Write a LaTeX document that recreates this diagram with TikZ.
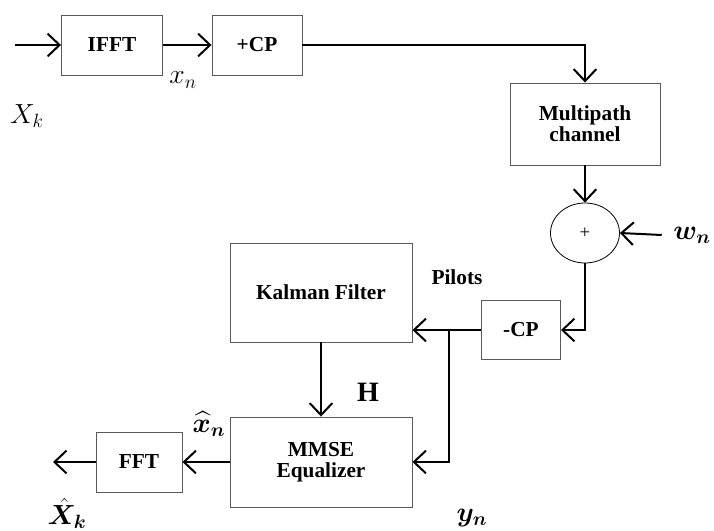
\documentclass[tikz,border=0pt]{standalone}
\usepackage{fontspec}
\setmainfont{Liberation Serif}
\usepackage{amsmath}
\usepackage{bm}
\usetikzlibrary{arrows.meta, positioning, shapes.geometric, calc}

\begin{document}
\begin{tikzpicture}[x=0.75pt, y=-0.75pt,
    >={Straight Barb[length=9pt, width=17pt]},
    blk/.style={draw=black!65, line width=0.7pt, align=center,
                font=\fontsize{16}{17.5}\selectfont\bfseries},
    sig/.style={->, line width=1.5pt},
    lbl/.style={font=\fontsize{21}{24}\selectfont, inner sep=1pt}]
  \useasboundingbox (0,0) rectangle (714,531);

  % Transmitter
  \node[blk, minimum width=75.75pt, minimum height=45pt] (ifft) at (112,45) {IFFT};
  \node[blk, minimum width=67.5pt, minimum height=45pt] (addcp) at (257,45) {+CP};
  \coordinate (src) at (15,45);

  % Channel and noise
  \node[blk, minimum width=112.5pt, minimum height=61.5pt] (chan) at (585,124)
    {Multipath\\[-2pt]channel};
  \node[draw, ellipse, line width=0.6pt, minimum width=51.75pt, minimum height=45pt,
        font=\fontsize{14}{16}\selectfont] (sum) at (585,233) {+};
  \node[lbl] (wn) at (692,235) {$\bm{w_n}$};

  % Receiver
  \node[blk, minimum width=59.25pt, minimum height=44.25pt] (rmcp) at (521,330) {-CP};
  \node[blk, minimum width=136.5pt, minimum height=74.25pt] (kf) at (321,292.5)
    {Kalman Filter};
  \node[blk, minimum width=136.5pt, minimum height=67.5pt] (mmse) at (321,462)
    {MMSE\\[-2pt]Equalizer};
  \node[blk, minimum width=64.5pt, minimum height=45pt] (fft) at (139,462) {FFT};
  \coordinate (sink) at (53,462);

  % Signal labels
  \node[lbl] (xn) at (183,80) {$x_n$};
  \node[lbl] (Xk) at (27,116) {$X_k$};
  \node[font=\fontsize{16}{17.5}\selectfont\bfseries] (pil) at (457,277) {Pilots};
  \node[lbl] (hh) at (368,392) {$\mathbf{H}$};
  \node[lbl] (xhat) at (209,424) {$\bm{\widehat{x}_n}$};
  \node[lbl, anchor=south] (Xhat) at (67,530) {$\bm{\hat{X}_k}$};
  \node[lbl] (yn) at (472,518) {$\bm{y_n}$};

  % Connectors
  \draw[sig] (src) -- (ifft.west);
  \draw[sig] (ifft.east) -- (addcp.west);
  \draw[sig] (addcp.east) -| (chan.north);
  \draw[sig] (chan.south) -- (sum.north);
  \draw[sig] ($(wn.west)+(-10,0)$) -- (sum.east);
  \draw[sig] (sum.south) |- (rmcp.east);
  \draw[sig] (rmcp.west) -- (rmcp.west -| kf.east);
  \coordinate (jn) at ($(rmcp.west -| kf.east)!0.54!(rmcp.west)$);
  \draw[sig] (jn) |- (mmse.east);
  \draw[sig] (kf.south) -- (mmse.north);
  \draw[sig] (mmse.west) -- (fft.east);
  \draw[sig] (fft.west) -- (sink);
\end{tikzpicture}
\end{document}
